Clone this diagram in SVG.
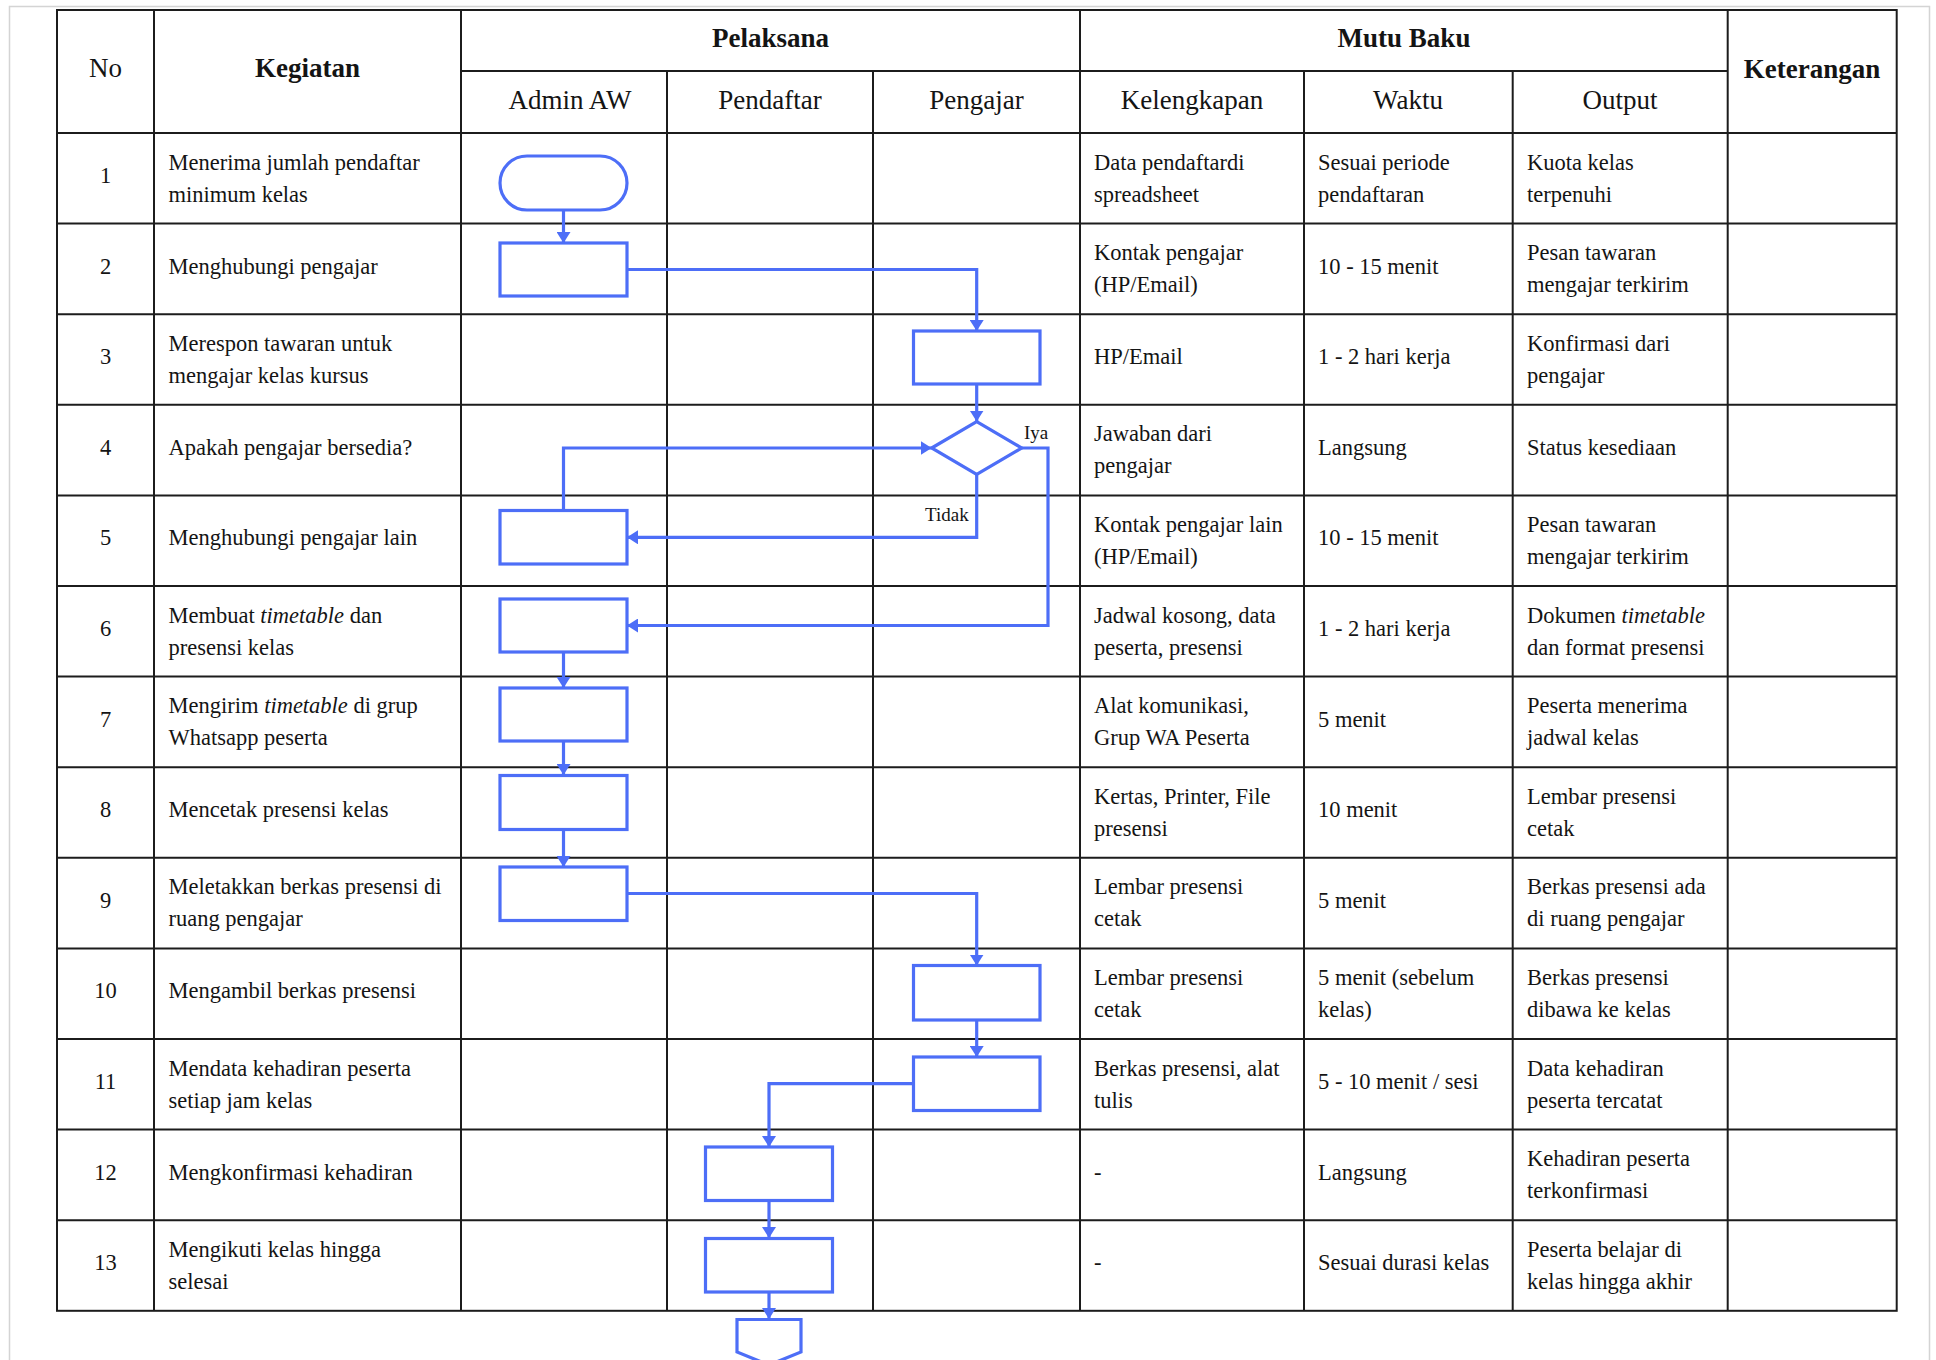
<svg xmlns="http://www.w3.org/2000/svg" width="1936" height="1360" viewBox="0 0 1936 1360">
<defs>
<style>
.grid{stroke:#1c1c1c;stroke-width:2;fill:none}
.t{font-family:"Liberation Serif","Times New Roman",serif;font-size:22.5px;fill:#141414}
.h{font-family:"Liberation Serif","Times New Roman",serif;font-size:27px;fill:#141414}
.hb{font-family:"Liberation Serif","Times New Roman",serif;font-size:27px;font-weight:bold;fill:#141414}
.lbl{font-family:"Liberation Serif","Times New Roman",serif;font-size:19px;fill:#141414}
.c{text-anchor:middle}
.shape{fill:#ffffff;stroke:#4d6ef7;stroke-width:3.2}
.conn{fill:none;stroke:#4d6ef7;stroke-width:3.2;marker-end:url(#arr)}
</style>
<marker id="arr" markerUnits="userSpaceOnUse" markerWidth="11" markerHeight="14" refX="11" refY="7" orient="auto">
<path d="M0,0 L11,7 L0,14 Z" fill="#4d6ef7"/>
</marker>
</defs>
<rect width="1936" height="1360" fill="#ffffff"/>
<path d="M9.5,1360 V6.5 H1929.5 V1360" fill="none" stroke="#d4d4d4" stroke-width="1.5"/>

<g id="table">
<rect class="grid" x="57" y="10" width="1839.7" height="1300.8"/>
<path class="grid" d="M154,10 V1310.8 M461,10 V1310.8 M1080,10 V1310.8 M1727.7,10 V1310.8 M667,71 V1310.8 M873,71 V1310.8 M1304,71 V1310.8 M1512.7,71 V1310.8 M461,71 H1727.7 M57,133 H1896.7 M57,223.6 H1896.7 M57,314.2 H1896.7 M57,404.8 H1896.7 M57,495.4 H1896.7 M57,586 H1896.7 M57,676.6 H1896.7 M57,767.2 H1896.7 M57,857.8 H1896.7 M57,948.4 H1896.7 M57,1039 H1896.7 M57,1129.6 H1896.7 M57,1220.2 H1896.7"/>
</g>

<g id="header">
<text class="h c" x="105.5" y="77">No</text>
<text class="hb c" x="307.5" y="77">Kegiatan</text>
<text class="hb c" x="770.5" y="46.5">Pelaksana</text>
<text class="hb c" x="1404" y="46.5">Mutu Baku</text>
<text class="hb c" x="1812" y="77.5">Keterangan</text>
<text class="h c" x="570" y="108.5">Admin AW</text>
<text class="h c" x="770" y="108.5">Pendaftar</text>
<text class="h c" x="976.5" y="108.5">Pengajar</text>
<text class="h c" x="1192" y="108.5">Kelengkapan</text>
<text class="h c" x="1408" y="108.5">Waktu</text>
<text class="h c" x="1620" y="108.5">Output</text>
</g>

<g id="row-texts">
<text class="t c" x="105.5" y="183">1</text>
<text class="t" x="168.5" y="169.5">Menerima jumlah pendaftar</text>
<text class="t" x="168.5" y="201.5">minimum kelas</text>
<text class="t" x="1094" y="169.5">Data pendaftardi</text>
<text class="t" x="1094" y="201.5">spreadsheet</text>
<text class="t" x="1318" y="169.5">Sesuai periode</text>
<text class="t" x="1318" y="201.5">pendaftaran</text>
<text class="t" x="1527" y="169.5">Kuota kelas</text>
<text class="t" x="1527" y="201.5">terpenuhi</text>

<text class="t c" x="105.5" y="273.6">2</text>
<text class="t" x="168.5" y="273.6">Menghubungi pengajar</text>
<text class="t" x="1094" y="260.1">Kontak pengajar</text>
<text class="t" x="1094" y="292.1">(HP/Email)</text>
<text class="t" x="1318" y="273.6">10 - 15 menit</text>
<text class="t" x="1527" y="260.1">Pesan tawaran</text>
<text class="t" x="1527" y="292.1">mengajar terkirim</text>

<text class="t c" x="105.5" y="364.2">3</text>
<text class="t" x="168.5" y="350.7">Merespon tawaran untuk</text>
<text class="t" x="168.5" y="382.7">mengajar kelas kursus</text>
<text class="t" x="1094" y="364.2">HP/Email</text>
<text class="t" x="1318" y="364.2">1 - 2 hari kerja</text>
<text class="t" x="1527" y="350.7">Konfirmasi dari</text>
<text class="t" x="1527" y="382.7">pengajar</text>

<text class="t c" x="105.5" y="454.8">4</text>
<text class="t" x="168.5" y="454.8">Apakah pengajar bersedia?</text>
<text class="t" x="1094" y="441.3">Jawaban dari</text>
<text class="t" x="1094" y="473.3">pengajar</text>
<text class="t" x="1318" y="454.8">Langsung</text>
<text class="t" x="1527" y="454.8">Status kesediaan</text>

<text class="t c" x="105.5" y="545.4">5</text>
<text class="t" x="168.5" y="545.4">Menghubungi pengajar lain</text>
<text class="t" x="1094" y="531.9">Kontak pengajar lain</text>
<text class="t" x="1094" y="563.9">(HP/Email)</text>
<text class="t" x="1318" y="545.4">10 - 15 menit</text>
<text class="t" x="1527" y="531.9">Pesan tawaran</text>
<text class="t" x="1527" y="563.9">mengajar terkirim</text>

<text class="t c" x="105.5" y="636">6</text>
<text class="t" x="168.5" y="622.5">Membuat <tspan font-style="italic">timetable</tspan> dan</text>
<text class="t" x="168.5" y="654.5">presensi kelas</text>
<text class="t" x="1094" y="622.5">Jadwal kosong, data</text>
<text class="t" x="1094" y="654.5">peserta, presensi</text>
<text class="t" x="1318" y="636">1 - 2 hari kerja</text>
<text class="t" x="1527" y="622.5">Dokumen <tspan font-style="italic">timetable</tspan></text>
<text class="t" x="1527" y="654.5">dan format presensi</text>

<text class="t c" x="105.5" y="726.6">7</text>
<text class="t" x="168.5" y="713.1">Mengirim <tspan font-style="italic">timetable</tspan> di grup</text>
<text class="t" x="168.5" y="745.1">Whatsapp peserta</text>
<text class="t" x="1094" y="713.1">Alat komunikasi,</text>
<text class="t" x="1094" y="745.1">Grup WA Peserta</text>
<text class="t" x="1318" y="726.6">5 menit</text>
<text class="t" x="1527" y="713.1">Peserta menerima</text>
<text class="t" x="1527" y="745.1">jadwal kelas</text>

<text class="t c" x="105.5" y="817.2">8</text>
<text class="t" x="168.5" y="817.2">Mencetak presensi kelas</text>
<text class="t" x="1094" y="803.7">Kertas, Printer, File</text>
<text class="t" x="1094" y="835.7">presensi</text>
<text class="t" x="1318" y="817.2">10 menit</text>
<text class="t" x="1527" y="803.7">Lembar presensi</text>
<text class="t" x="1527" y="835.7">cetak</text>

<text class="t c" x="105.5" y="907.8">9</text>
<text class="t" x="168.5" y="894.3">Meletakkan berkas presensi di</text>
<text class="t" x="168.5" y="926.3">ruang pengajar</text>
<text class="t" x="1094" y="894.3">Lembar presensi</text>
<text class="t" x="1094" y="926.3">cetak</text>
<text class="t" x="1318" y="907.8">5 menit</text>
<text class="t" x="1527" y="894.3">Berkas presensi ada</text>
<text class="t" x="1527" y="926.3">di ruang pengajar</text>

<text class="t c" x="105.5" y="998.4">10</text>
<text class="t" x="168.5" y="998.4">Mengambil berkas presensi</text>
<text class="t" x="1094" y="984.9">Lembar presensi</text>
<text class="t" x="1094" y="1016.9">cetak</text>
<text class="t" x="1318" y="984.9">5 menit (sebelum</text>
<text class="t" x="1318" y="1016.9">kelas)</text>
<text class="t" x="1527" y="984.9">Berkas presensi</text>
<text class="t" x="1527" y="1016.9">dibawa ke kelas</text>

<text class="t c" x="105.5" y="1089">11</text>
<text class="t" x="168.5" y="1075.5">Mendata kehadiran peserta</text>
<text class="t" x="168.5" y="1107.5">setiap jam kelas</text>
<text class="t" x="1094" y="1075.5">Berkas presensi, alat</text>
<text class="t" x="1094" y="1107.5">tulis</text>
<text class="t" x="1318" y="1089">5 - 10 menit / sesi</text>
<text class="t" x="1527" y="1075.5">Data kehadiran</text>
<text class="t" x="1527" y="1107.5">peserta tercatat</text>

<text class="t c" x="105.5" y="1179.6">12</text>
<text class="t" x="168.5" y="1179.6">Mengkonfirmasi kehadiran</text>
<text class="t" x="1094" y="1179.6">-</text>
<text class="t" x="1318" y="1179.6">Langsung</text>
<text class="t" x="1527" y="1166.1">Kehadiran peserta</text>
<text class="t" x="1527" y="1198.1">terkonfirmasi</text>

<text class="t c" x="105.5" y="1270.2">13</text>
<text class="t" x="168.5" y="1256.7">Mengikuti kelas hingga</text>
<text class="t" x="168.5" y="1288.7">selesai</text>
<text class="t" x="1094" y="1270.2">-</text>
<text class="t" x="1318" y="1270.2">Sesuai durasi kelas</text>
<text class="t" x="1527" y="1256.7">Peserta belajar di</text>
<text class="t" x="1527" y="1288.7">kelas hingga akhir</text>
</g>

<g id="connectors">
<path class="conn" d="M563.5,210 V243"/>
<path class="conn" d="M627,269.5 H976.7 V331"/>
<path class="conn" d="M976.7,384 V421.5"/>
<path class="conn" d="M1021.7,448 H1048 V625.5 H627"/>
<path class="conn" d="M976.7,474.5 V537.3 H627"/>
<path class="conn" d="M563.5,510 V448 H931.7"/>
<path class="conn" d="M563.5,652 V688"/>
<path class="conn" d="M563.5,741 V775"/>
<path class="conn" d="M563.5,830 V867"/>
<path class="conn" d="M627,893.5 H976.7 V965.5"/>
<path class="conn" d="M976.7,1020 V1057"/>
<path class="conn" d="M913.5,1083.7 H769 V1147"/>
<path class="conn" d="M769,1200 V1238"/>
<path class="conn" d="M769,1291.5 V1319"/>
<text class="lbl" x="1024" y="438.5">Iya</text>
<text class="lbl" x="925" y="520.5">Tidak</text>
</g>

<g id="n1"><rect class="shape" x="500" y="156" width="127" height="54" rx="27" ry="27"/></g>
<g id="n2"><rect class="shape" x="500" y="243" width="127" height="53"/></g>
<g id="n3"><rect class="shape" x="913.5" y="331" width="126.5" height="53"/></g>
<g id="n4"><polygon class="shape" points="931.7,448 976.7,421.5 1021.7,448 976.7,474.5"/></g>
<g id="n5"><rect class="shape" x="500" y="510.5" width="127" height="53.5"/></g>
<g id="n6"><rect class="shape" x="500" y="599" width="127" height="53"/></g>
<g id="n7"><rect class="shape" x="500" y="688" width="127" height="53"/></g>
<g id="n8"><rect class="shape" x="500" y="775.5" width="127" height="54"/></g>
<g id="n9"><rect class="shape" x="500" y="867" width="127" height="53.5"/></g>
<g id="n10"><rect class="shape" x="913.5" y="965.5" width="126.5" height="54.5"/></g>
<g id="n11"><rect class="shape" x="913.5" y="1057" width="126.5" height="53.5"/></g>
<g id="n12"><rect class="shape" x="705.5" y="1147" width="127" height="53.5"/></g>
<g id="n13"><rect class="shape" x="705.5" y="1238.5" width="127" height="53.5"/></g>
<g id="n14"><polygon class="shape" points="737,1319.5 801,1319.5 801,1352 769,1365 737,1352"/></g>
</svg>
